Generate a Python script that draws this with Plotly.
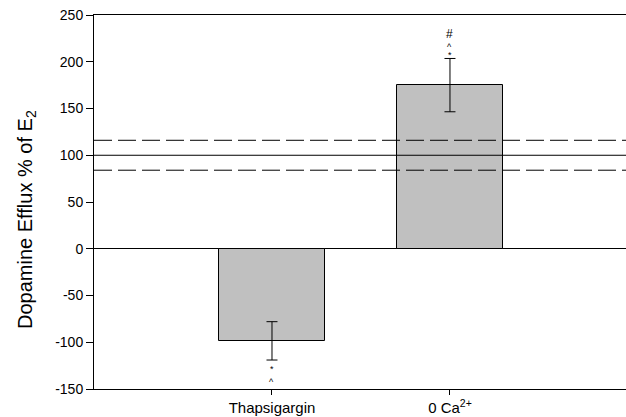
import plotly.graph_objects as go

categories = ["Thapsigargin", "0 Ca<sup>2+</sup>"]
x_pos = [0, 1]
means = [-98.5, 175]
errors = [20.5, 28.5]
control_mean = 100
control_band = [84, 116]
y_ticks = [-150, -100, -50, 0, 50, 100, 150, 200, 250]
y_tick_labels = ["-150", "-100", "-50", "0", "50", "100", "150", "200", "250"]
y_title = "Dopamine Efflux % of E<sub>2</sub>"
# significance symbols: (x index, y value, text, size)
marks_x = [0, 0, 1, 1, 1]
marks_y = [-129, -143, 207, 216, 230]
marks_text = ["*", "^", "*", "^", "#"]
marks_size = [9, 9, 9, 9, 12]

FONT = "Liberation Sans, Arial, sans-serif"

fig = go.Figure()
fig.add_trace(go.Bar(
    x=x_pos, y=means, width=0.6,
    marker=dict(color="#c0c0c0", line=dict(color="black", width=1)),
    error_y=dict(type="data", array=errors, visible=True, color="black",
                 thickness=1, width=5.5),
    showlegend=False,
))

fig.add_shape(type="line", xref="paper", x0=0, x1=1, y0=control_mean, y1=control_mean,
              line=dict(color="black", width=1))
for v in control_band:
    fig.add_shape(type="line", xref="paper", x0=0, x1=1, y0=v, y1=v,
                  line=dict(color="black", width=1, dash="18px,6px"))

for xi, yi, t, s in zip(marks_x, marks_y, marks_text, marks_size):
    fig.add_annotation(x=x_pos[xi], y=yi, text=t, showarrow=False,
                       font=dict(size=s, color="black", family=FONT))

# y-axis title placed as a rotated annotation
fig.add_annotation(x=0, y=0.452, xref="paper", yref="paper", xanchor="center",
                   yanchor="middle", xshift=-67, textangle=-90, text=y_title,
                   showarrow=False, font=dict(size=20, color="black", family=FONT))

fig.update_layout(
    width=626, height=417,
    margin=dict(l=94, r=0, t=15, b=28),
    plot_bgcolor="white", paper_bgcolor="white",
    font=dict(family=FONT, size=13, color="black"),
    bargap=0,
)
fig.update_xaxes(
    range=[-1, 1.989], tickvals=x_pos, ticktext=categories,
    showline=True, linecolor="black", linewidth=1, mirror=True,
    ticks="outside", ticklen=5, tickcolor="black", showgrid=False, zeroline=False,
    tickfont=dict(size=15),
)
fig.update_yaxes(
    range=[-150, 250], tickvals=y_ticks, ticktext=y_tick_labels,
    showline=True, linecolor="black", linewidth=1,
    ticks="outside", ticklen=7, tickcolor="black", showgrid=False,
    zeroline=True, zerolinecolor="black", zerolinewidth=1,
    tickfont=dict(size=14),
)

fig.write_html("out.html", config={"displayModeBar": False},
               post_script="document.body.style.margin='0px';")
